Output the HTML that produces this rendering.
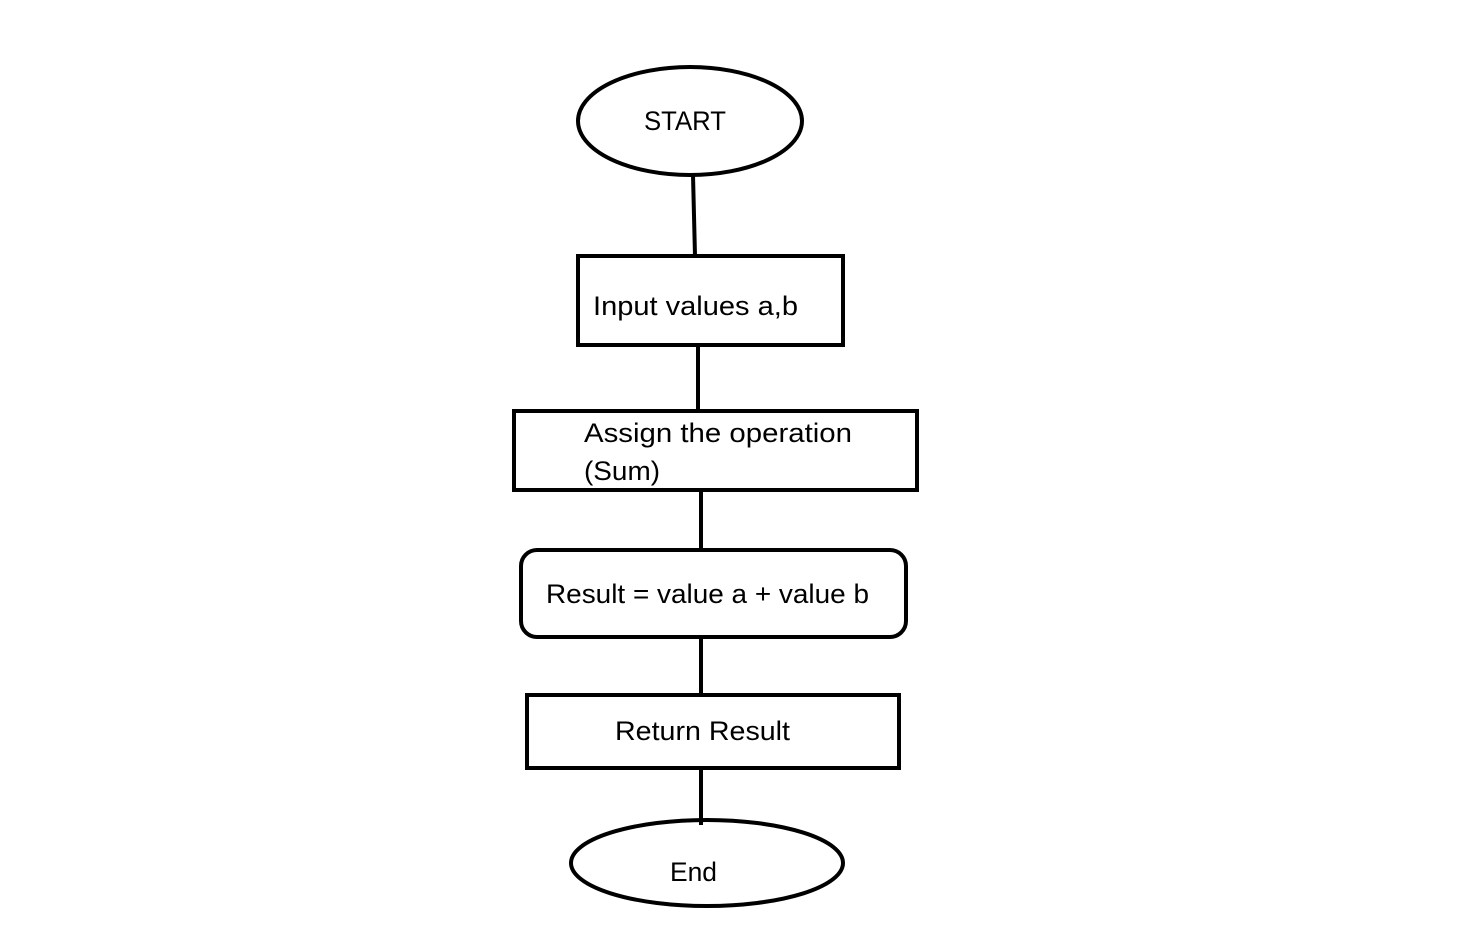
<!DOCTYPE html>
<html><head><meta charset="utf-8"><style>html,body{margin:0;padding:0;background:#fff}</style></head>
<body>
<svg width="1474" height="941" xmlns="http://www.w3.org/2000/svg" style="display:block">
<g fill="none" stroke="#000" stroke-width="4">
<ellipse cx="690" cy="121" rx="112" ry="54"/>
<line x1="693" y1="175" x2="695" y2="256"/>
<rect x="578" y="256" width="265" height="89"/>
<line x1="698" y1="345" x2="698" y2="411"/>
<rect x="514" y="411" width="403" height="79"/>
<line x1="701" y1="490" x2="701" y2="550"/>
<rect x="521" y="550" width="385" height="87" rx="16"/>
<line x1="701" y1="637" x2="701" y2="697"/>
<rect x="527" y="695" width="372" height="73"/>
<line x1="701" y1="768" x2="701" y2="825"/>
<ellipse cx="707" cy="863" rx="136" ry="43"/>
</g>
<g font-family="Liberation Sans, sans-serif" font-size="27" fill="#000" lengthAdjust="spacingAndGlyphs">
<text x="644" y="130" textLength="82" lengthAdjust="spacingAndGlyphs">START</text>
<text x="593" y="315" textLength="205" lengthAdjust="spacingAndGlyphs">Input values a,b</text>
<text x="584" y="442" textLength="268" lengthAdjust="spacingAndGlyphs">Assign the operation</text>
<text x="584" y="480" textLength="76" lengthAdjust="spacingAndGlyphs">(Sum)</text>
<text x="546" y="603" textLength="323" lengthAdjust="spacingAndGlyphs">Result = value a + value b</text>
<text x="615" y="740" textLength="175" lengthAdjust="spacingAndGlyphs">Return Result</text>
<text x="670" y="881" textLength="47" lengthAdjust="spacingAndGlyphs">End</text>
</g>
</svg>
</body></html>
